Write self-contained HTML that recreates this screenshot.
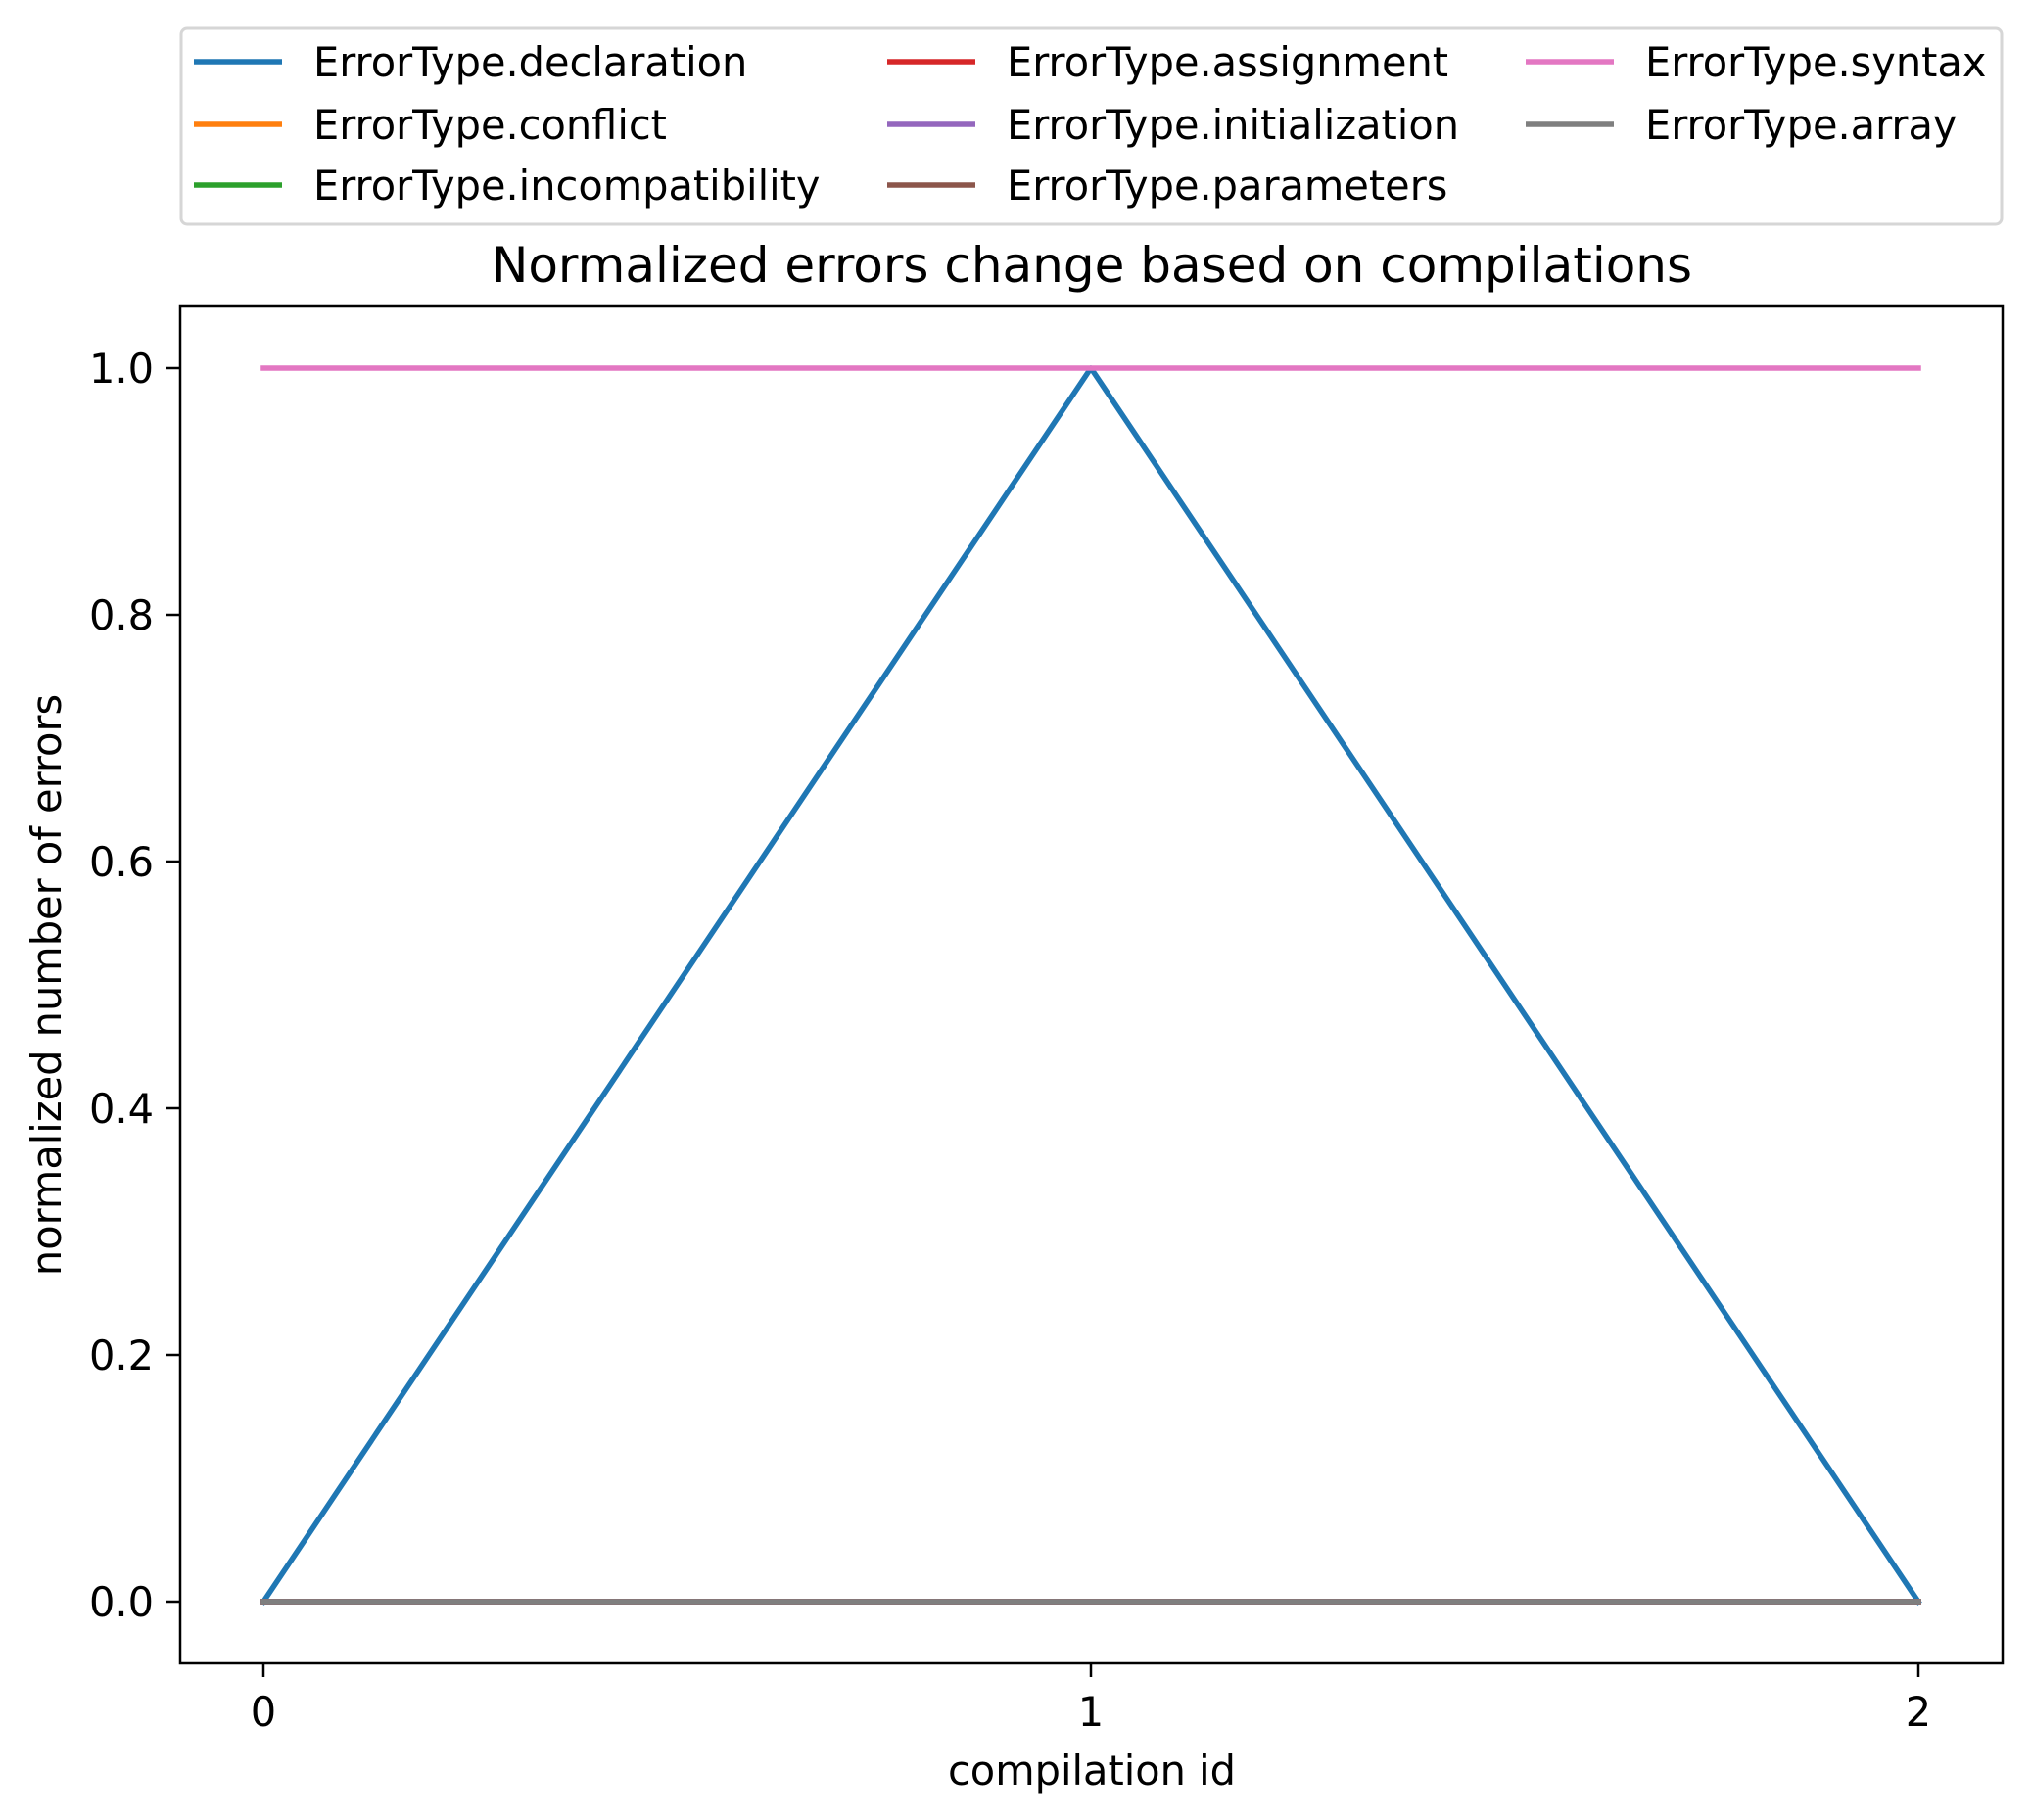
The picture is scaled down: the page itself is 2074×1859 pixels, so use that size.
<!DOCTYPE html>
<html><head><meta charset="utf-8"><style>
html,body{margin:0;padding:0;background:#fff;}
svg{display:block;font-family:"DejaVu Sans","Liberation Sans",sans-serif;}
</style></head><body>
<svg id="chart" width="2074" height="1859" viewBox="0 0 2074 1859" xmlns="http://www.w3.org/2000/svg">
<rect x="0" y="0" width="2074" height="1859" fill="#fff"/>
<text x="1115" y="288" font-size="50" text-anchor="middle">Normalized errors change based on compilations</text>
<g id="plot"></g>
<rect x="184" y="313" width="1861" height="1386" fill="none" stroke="#000" stroke-width="2.5"/>
<g id="xticks"></g>
<g id="yticks"></g>
<text x="1115" y="1823" font-size="41.5" text-anchor="middle">compilation id</text>
<text transform="translate(62,1006) rotate(-90)" font-size="41.5" text-anchor="middle">normalized number of errors</text>
<g id="legend">
<rect x="185" y="29" width="1859" height="200" rx="6" fill="#fff" stroke="#d6d6d6" stroke-width="3"/>
</g>
</svg>
<script>
const categories = [0, 1, 2];
const seriesNames = ["ErrorType.declaration","ErrorType.conflict","ErrorType.incompatibility","ErrorType.assignment","ErrorType.initialization","ErrorType.parameters","ErrorType.syntax","ErrorType.array"];
const seriesColors = ["#1f77b4","#ff7f0e","#2ca02c","#d62728","#9467bd","#8c564b","#e377c2","#7f7f7f"];
const declaration = [0, 1, 0];
const conflict = [0, 0, 0];
const incompatibility = [0, 0, 0];
const assignment = [0, 0, 0];
const initialization = [0, 0, 0];
const parameters = [0, 0, 0];
const syntax = [1, 1, 1];
const arrayErr = [0, 0, 0];
const seriesValues = [declaration, conflict, incompatibility, assignment, initialization, parameters, syntax, arrayErr];
const xTickLabels = ["0", "1", "2"];
const yTickValues = [0, 0.2, 0.4, 0.6, 0.8, 1.0];
const yTickLabels = ["0.0", "0.2", "0.4", "0.6", "0.8", "1.0"];

const NS = "http://www.w3.org/2000/svg";
function xScale(v){ return 269 + (v - 0) * (1959 - 269) / 2; }
function yScale(v){ return 1636 - v * (1636 - 376); }
function mk(tag, attrs, parent){ const e = document.createElementNS(NS, tag); for (const k in attrs) e.setAttribute(k, attrs[k]); parent.appendChild(e); return e; }

const plot = document.getElementById("plot");
seriesValues.forEach((vals, i) => {
  const pts = vals.map((v, j) => xScale(categories[j]) + "," + yScale(v)).join(" ");
  const pl = mk("polyline", {points: pts, fill: "none", stroke: seriesColors[i], "stroke-width": 5.5, "stroke-linejoin": "round", "stroke-linecap": "square"}, plot);
  
  
});

const xt = document.getElementById("xticks");
categories.forEach((c, i) => {
  const x = xScale(c);
  const t = mk("line", {x1: x, x2: x, y1: 1699, y2: 1713, stroke: "#000", "stroke-width": 2.5}, xt);
  
  
  const l = mk("text", {x: x, y: 1763, "font-size": 41.5, "text-anchor": "middle"}, xt);
  l.textContent = xTickLabels[i];
  
  
});

const yt = document.getElementById("yticks");
yTickValues.forEach((v, i) => {
  const y = yScale(v);
  const t = mk("line", {x1: 170, x2: 184, y1: y, y2: y, stroke: "#000", "stroke-width": 2.5}, yt);
  
  
  const l = mk("text", {x: 157, y: y + 15, "font-size": 41.5, "text-anchor": "end"}, yt);
  l.textContent = yTickLabels[i];
  
  
});

const lg = document.getElementById("legend");
const colX = [198, 906, 1558];
const rowY = [63, 127, 189];
seriesNames.forEach((n, i) => {
  const col = Math.floor(i / 3), row = i % 3;
  const x = colX[col], y = rowY[row];
  const h = mk("line", {x1: x, x2: x + 90, y1: y, y2: y, stroke: seriesColors[i], "stroke-width": 5.5}, lg);
  
  
  const t = mk("text", {x: x + 122, y: y + 15, "font-size": 41.5}, lg);
  t.textContent = n;
  
  
});
</script>
</body></html>
